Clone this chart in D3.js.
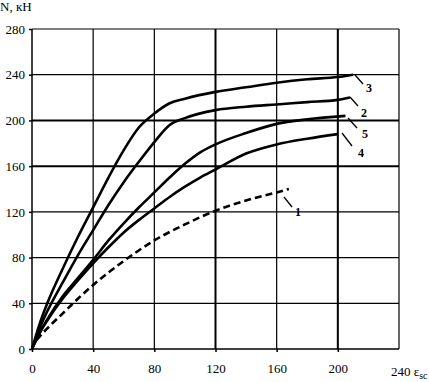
<!DOCTYPE html>
<html><head><meta charset="utf-8">
<script src="https://cdn.jsdelivr.net/npm/d3@7"></script>
<style>body{margin:0;background:#fff}svg{display:block}</style>
</head><body><svg id="c" width="429" height="382"></svg>
<script>
const xTicks=[0,40,80,120,160,200,240];
const yTicks=[0,40,80,120,160,200,240,280];
const thickX=[120,200];
const thickY=[160,200];
const curve3=[[0,0],[5,22],[10,40],[20,70],[30,98],[40,124],[50,150],[60,174],[70,194],[80,206],[90,215],[100,219],[120,225],[140,229],[160,233],[180,236],[200,238],[210,240]];
const curve2=[[0,0],[5,18],[10,33],[20,58],[30,82],[40,104],[50,126],[60,146],[70,164],[80,181],[90,196],[100,202],[120,209],[140,212],[160,214],[180,216],[200,218],[208,220]];
const curve5=[[0,0],[5,14],[10,26],[20,46],[30,62],[40,78],[50,95],[60,110],[70,124],[80,137],[90,150],[100,162],[110,172],[120,179],[140,189],[160,197],[180,201],[205,204]];
const curve4=[[0,0],[5,14],[10,25],[20,44],[30,60],[40,75],[50,89],[60,102],[70,113],[80,123],[90,133],[100,142],[110,150],[120,157],[140,171],[160,179],[180,184],[200,188]];
const curve1=[[3,8],[10,18],[20,31],[30,44],[40,56],[60,77],[80,95],[100,109],[120,121],[140,130],[160,137],[168,140]];
const curveNames=["3","2","5","4","1"];
const FONT="'Liberation Serif', 'DejaVu Serif', serif";

const svg=d3.select("#c");
const x=d3.scaleLinear().domain([0,240]).range([32,399]);
const y=d3.scaleLinear().domain([0,280]).range([349,29]);

svg.append("g").selectAll("line").data(yTicks.filter(d=>d>0)).join("line")
 .attr("x1",x(0)).attr("x2",x(240)).attr("y1",d=>y(d)).attr("y2",d=>y(d))
 .attr("stroke","#000").attr("stroke-width",d=>thickY.includes(d)?2:1.2);
svg.append("g").selectAll("line").data(xTicks.filter(d=>d>0)).join("line")
 .attr("y1",y(0)).attr("y2",y(280)).attr("x1",d=>x(d)).attr("x2",d=>x(d))
 .attr("stroke","#000").attr("stroke-width",d=>thickX.includes(d)?2:1.2);

const ya=svg.append("g").attr("transform",`translate(${x(0)},0)`).call(d3.axisLeft(y).tickValues(yTicks).tickSize(3).tickPadding(4));
const xa=svg.append("g").attr("transform",`translate(0,${y(0)})`).call(d3.axisBottom(x).tickValues(xTicks.slice(0,6)).tickSize(3).tickPadding(12));
[ya,xa].forEach(a=>{a.attr("font-family",FONT).attr("font-size",13);a.selectAll("path,line").attr("stroke","#000").attr("stroke-width",1.5);a.selectAll("text").attr("fill","#000");});
xa.select(".domain").attr("d",`M${x(0)},0H${x(240)}`);
ya.select(".domain").attr("d",`M0,${y(0)}V${y(280)}`);

const xl=svg.append("text").attr("x",x(240)-8).attr("y",y(0)+27).attr("font-family",FONT).attr("font-size",13);
xl.append("tspan").text("240 ε");
xl.append("tspan").attr("dy",3).attr("font-size",10).text("sc");
svg.append("text").attr("x",0).attr("y",11).attr("font-family",FONT).attr("font-size",13).text("N, кН");

const line=d3.line().x(d=>x(d[0])).y(d=>y(d[1])).curve(d3.curveMonotoneX);
const all=[curve3,curve2,curve5,curve4,curve1];
all.forEach((c,i)=>{
  svg.append("path").attr("d",line(c)).attr("fill","none").attr("stroke","#000")
   .attr("stroke-width",2.6).attr("stroke-dasharray",i===4?"7,4":null);
});
const leaders=[[355,75,363,84,366,92],[350,97,358,106,361,117],[348,118,357,128,362,138],[342,133,352,146,358,157],[284,197,292,207,295,216]];
leaders.forEach((l,i)=>{
  svg.append("line").attr("x1",l[0]).attr("y1",l[1]).attr("x2",l[2]).attr("y2",l[3]).attr("stroke","#000").attr("stroke-width",1.3);
  svg.append("text").attr("x",l[4]).attr("y",l[5]).attr("font-family",FONT).attr("font-size",12).attr("font-weight","bold").text(curveNames[i]);
});
</script></body></html>
